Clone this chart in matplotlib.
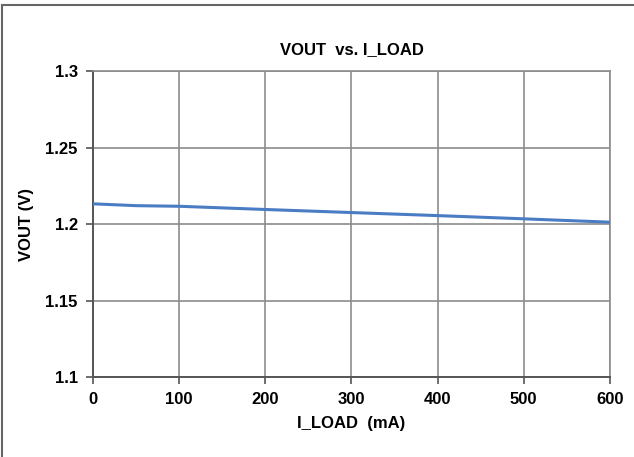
import matplotlib.pyplot as plt
from matplotlib.patches import Rectangle

i_load = [0, 50, 100, 200, 300, 400, 500, 600]
vout = [1.2132, 1.2120, 1.2116, 1.2095, 1.2075, 1.2055, 1.2034, 1.2012]
x_ticks = [0, 100, 200, 300, 400, 500, 600]
y_ticks = [1.1, 1.15, 1.2, 1.25, 1.3]
y_labels = ['1.1', '1.15', '1.2', '1.25', '1.3']

plt.rcParams['font.family'] = ['Liberation Sans Narrow', 'Liberation Sans', 'DejaVu Sans']
plt.rcParams['font.weight'] = 'bold'

fig = plt.figure(figsize=(6.34, 4.57), dpi=100)
ax = fig.add_axes([0.1467, 0.175, 0.8153, 0.6696])

ax.plot(i_load, vout, color='#4a7cc4', linewidth=2.2, zorder=3)

ax.set_xlim(0, 600)
ax.set_ylim(1.1, 1.3)
ax.set_xticks(x_ticks)
ax.set_yticks(y_ticks)
ax.set_yticklabels(y_labels)
ax.grid(True, color='#8c8c8c', linewidth=1.2)
ax.tick_params(axis='both', labelsize=12, length=5, width=1.2, color='#555555', pad=6)
for s in ['top', 'right']:
    ax.spines[s].set_color('#8c8c8c')
    ax.spines[s].set_linewidth(1.2)
for s in ['left', 'bottom']:
    ax.spines[s].set_color('#555555')
    ax.spines[s].set_linewidth(1.4)

ax.set_title('VOUT  vs. I_LOAD', fontsize=12, fontweight='bold', pad=12)
ax.set_xlabel('I_LOAD  (mA)', fontsize=12, fontweight='bold', labelpad=6)
ax.set_ylabel('VOUT (V)', fontsize=12, fontweight='bold', labelpad=8)

fig.patches.append(Rectangle((0.003, -0.01), 1.2, 1.0, transform=fig.transFigure,
                             fill=False, edgecolor='#666666', linewidth=1.5))

fig.savefig('out.png', dpi=100)
